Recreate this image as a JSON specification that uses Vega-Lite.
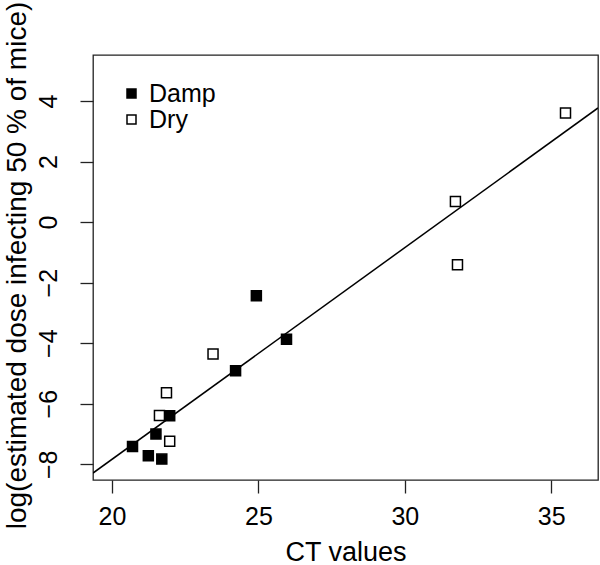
{
  "$schema": "https://vega.github.io/schema/vega-lite/v6.json",
  "width": 505,
  "height": 425,
  "autosize": "none",
  "padding": {"left": 93, "top": 55, "right": 2, "bottom": 85},
  "background": "white",
  "config": {
    "font": "Liberation Sans",
    "view": {"stroke": "#222", "strokeWidth": 1.3},
    "axis": {
      "grid": false,
      "domain": false,
      "tickColor": "#222",
      "tickWidth": 1.3,
      "tickSize": 13,
      "labelFont": "Liberation Sans",
      "labelFontSize": 25,
      "labelColor": "black",
      "titleFont": "Liberation Sans",
      "titleFontSize": 27,
      "titleFontWeight": "normal",
      "titleColor": "black"
    }
  },
  "datasets": {
    "points": [
      {"ct": 24.93, "logdose": -2.43, "group": "Damp"},
      {"ct": 25.96, "logdose": -3.87, "group": "Damp"},
      {"ct": 24.22, "logdose": -4.91, "group": "Damp"},
      {"ct": 21.97, "logdose": -6.40, "group": "Damp"},
      {"ct": 21.50, "logdose": -7.00, "group": "Damp"},
      {"ct": 20.70, "logdose": -7.41, "group": "Damp"},
      {"ct": 21.24, "logdose": -7.72, "group": "Damp"},
      {"ct": 21.70, "logdose": -7.83, "group": "Damp"},
      {"ct": 23.45, "logdose": -4.36, "group": "Dry"},
      {"ct": 21.86, "logdose": -5.64, "group": "Dry"},
      {"ct": 21.62, "logdose": -6.39, "group": "Dry"},
      {"ct": 21.97, "logdose": -7.24, "group": "Dry"},
      {"ct": 35.49, "logdose": 3.60, "group": "Dry"},
      {"ct": 31.73, "logdose": 0.68, "group": "Dry"},
      {"ct": 31.80, "logdose": -1.41, "group": "Dry"}
    ],
    "fit": [
      {"ct": 19.35, "logdose": -8.29},
      {"ct": 36.6, "logdose": 3.77}
    ]
  },
  "layer": [
    {
      "data": {"name": "fit"},
      "mark": {"type": "line", "color": "black", "strokeWidth": 1.5, "clip": true},
      "encoding": {
        "x": {"field": "ct", "type": "quantitative"},
        "y": {"field": "logdose", "type": "quantitative"}
      }
    },
    {
      "data": {"name": "points"},
      "mark": {"type": "square", "size": 100, "stroke": "black", "strokeWidth": 1.5, "opacity": 1, "fillOpacity": 1},
      "encoding": {
        "x": {
          "field": "ct", "type": "quantitative",
          "scale": {"domain": [19.35, 36.6], "nice": false, "zero": false},
          "axis": {"values": [20, 25, 30, 35], "title": "CT values", "labelPadding": 11, "titleY": 80, "titleBaseline": "alphabetic"}
        },
        "y": {
          "field": "logdose", "type": "quantitative",
          "scale": {"domain": [-8.52, 5.52], "nice": false, "zero": false},
          "axis": {
            "values": [-8, -6, -4, -2, 0, 2, 4],
            "title": "log(estimated dose infecting 50 % of mice)",
            "labelAngle": -90, "labelAlign": "center", "labelBaseline": "alphabetic", "labelPadding": 24,
            "titleAngle": -90, "titleX": -68, "titleY": 210, "titleAlign": "center", "titleBaseline": "alphabetic", "titleFontSize": 28
          }
        },
        "fill": {
          "field": "group", "type": "nominal",
          "scale": {"domain": ["Damp", "Dry"], "range": ["black", "white"]},
          "legend": {
            "title": null,
            "orient": "none",
            "legendX": 26,
            "legendY": 26,
            "padding": 0,
            "symbolType": "square",
            "symbolSize": 81,
            "symbolStrokeColor": "black",
            "symbolStrokeWidth": 1.5,
            "symbolOpacity": 1,
            "labelFont": "Liberation Sans",
            "labelFontSize": 25,
            "labelColor": "black",
            "labelOffset": 5,
            "rowPadding": 0
          }
        }
      }
    }
  ]
}
